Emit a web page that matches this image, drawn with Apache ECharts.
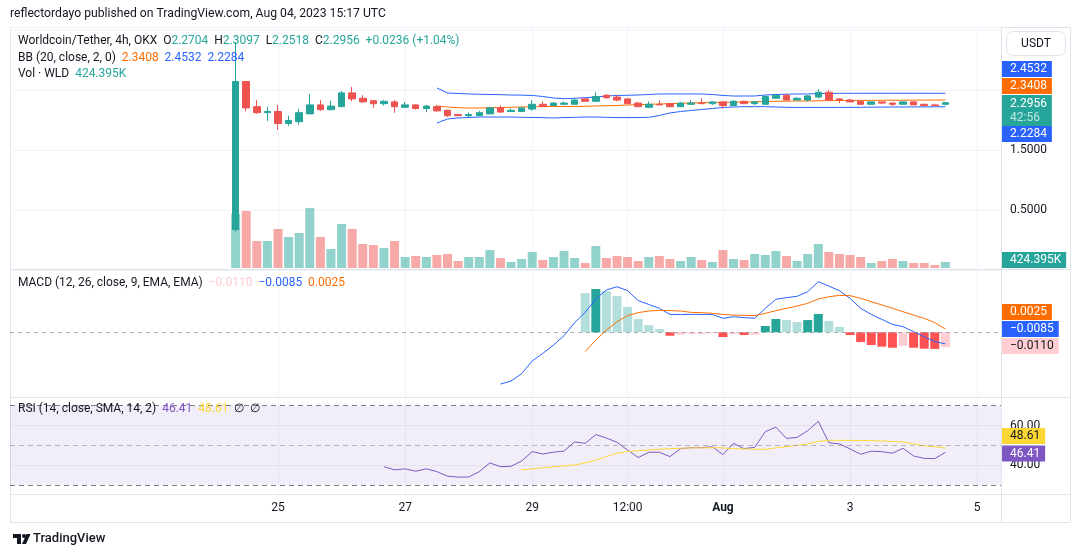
<!doctype html>
<meta charset="utf-8">
<style>
  html, body { margin: 0; height: 100%; background: #fff; }
  #chart { width: 1080px; height: 557px; }
</style>
<script src="https://cdn.jsdelivr.net/npm/echarts@6/dist/echarts.min.js"></script>
<div id="chart"></div>
<script>
  const HOUR = 3600 * 1000
  const FIRST_BAR = Date.UTC(2023, 6, 24, 8)
  const BAR_STEP = 4 * HOUR
  const DAY25 = Date.UTC(2023, 6, 25)

  const candles = [
    [0.18, 2.65, 0.15, 3.31], [2.65, 2.21, 2.15, 2.66], [2.23, 2.13, 2.11, 2.34], [2.13, 2.15, 1.99, 2.23],
    [2.15, 1.95, 1.84, 2.26], [1.95, 2.00, 1.91, 2.08], [1.98, 2.13, 1.93, 2.19], [2.11, 2.26, 2.11, 2.44],
    [2.26, 2.18, 2.16, 2.34], [2.18, 2.24, 2.17, 2.33], [2.23, 2.46, 2.23, 2.49], [2.46, 2.36, 2.32, 2.56],
    [2.37, 2.31, 2.30, 2.42], [2.33, 2.28, 2.21, 2.33], [2.28, 2.32, 2.25, 2.34], [2.31, 2.23, 2.13, 2.34],
    [2.22, 2.26, 2.21, 2.31], [2.26, 2.20, 2.18, 2.27], [2.20, 2.24, 2.14, 2.26], [2.23, 2.16, 2.15, 2.26],
    [2.17, 2.08, 2.06, 2.18], [2.10, 2.08, 2.07, 2.11], [2.08, 2.10, 2.05, 2.13], [2.08, 2.13, 2.08, 2.16],
    [2.11, 2.21, 2.11, 2.23], [2.21, 2.14, 2.13, 2.25], [2.15, 2.17, 2.15, 2.20], [2.15, 2.21, 2.15, 2.23],
    [2.19, 2.27, 2.16, 2.34], [2.27, 2.23, 2.23, 2.32], [2.25, 2.29, 2.25, 2.31], [2.27, 2.29, 2.27, 2.32],
    [2.27, 2.34, 2.27, 2.36], [2.36, 2.32, 2.32, 2.37], [2.32, 2.40, 2.32, 2.47], [2.42, 2.38, 2.36, 2.44],
    [2.39, 2.34, 2.32, 2.42], [2.36, 2.28, 2.28, 2.37], [2.29, 2.23, 2.23, 2.31], [2.22, 2.27, 2.21, 2.32],
    [2.27, 2.26, 2.26, 2.34], [2.28, 2.23, 2.23, 2.29], [2.23, 2.29, 2.23, 2.31], [2.27, 2.29, 2.26, 2.34],
    [2.29, 2.28, 2.28, 2.37], [2.28, 2.31, 2.26, 2.31], [2.31, 2.25, 2.20, 2.32], [2.25, 2.32, 2.25, 2.34],
    [2.32, 2.28, 2.28, 2.33], [2.28, 2.31, 2.26, 2.32], [2.27, 2.40, 2.27, 2.42], [2.37, 2.42, 2.37, 2.44],
    [2.42, 2.34, 2.34, 2.45], [2.34, 2.37, 2.34, 2.39], [2.34, 2.41, 2.32, 2.42], [2.39, 2.47, 2.37, 2.52],
    [2.47, 2.34, 2.34, 2.51], [2.36, 2.34, 2.29, 2.37], [2.34, 2.31, 2.31, 2.36], [2.32, 2.27, 2.26, 2.33],
    [2.27, 2.31, 2.27, 2.31], [2.31, 2.29, 2.27, 2.31], [2.29, 2.27, 2.24, 2.31], [2.27, 2.31, 2.27, 2.32],
    [2.31, 2.26, 2.26, 2.32], [2.27, 2.25, 2.25, 2.28], [2.26, 2.25, 2.25, 2.28], [2.2704, 2.2956, 2.2518, 2.3097],
  ]

  // volume in thousands of WLD
  const volumesK = [
    3823, 4036, 1912, 1912, 2761, 2195, 2478, 4248, 2195, 1345, 3115, 2761, 1699, 1628, 1416, 1912,
    779, 850, 779, 920, 991, 496, 779, 779, 1274, 708, 425, 637, 1133, 566, 779, 1204, 708, 354,
    1558, 708, 850, 779, 496, 779, 850, 637, 496, 779, 566, 425, 1274, 637, 566, 991, 920, 1204,
    850, 496, 991, 1699, 1133, 991, 920, 779, 354, 496, 637, 496, 354, 354, 212, 424.395,
  ]

  // Bollinger bands, from bar 20 on
  const BB_START = 19
  const bbUpper = [
    2.542, 2.458, 2.45, 2.442, 2.437, 2.433, 2.43, 2.425, 2.422, 2.417, 2.40, 2.375, 2.363, 2.37, 2.38,
    2.392, 2.408, 2.417, 2.42, 2.425, 2.433, 2.442, 2.442, 2.442, 2.442, 2.442, 2.433, 2.417, 2.408, 2.408,
    2.408, 2.425, 2.433, 2.438, 2.442, 2.442, 2.447, 2.45, 2.453, 2.453, 2.454, 2.454, 2.454, 2.454, 2.454,
    2.454, 2.454, 2.453, 2.4532,
  ]
  const bbBasis = [
    2.242, 2.225, 2.213, 2.208, 2.208, 2.213, 2.217, 2.22, 2.225, 2.23, 2.233, 2.233, 2.234, 2.235, 2.237,
    2.242, 2.247, 2.25, 2.258, 2.263, 2.27, 2.275, 2.28, 2.287, 2.292, 2.297, 2.3, 2.303, 2.305, 2.308,
    2.312, 2.317, 2.32, 2.322, 2.325, 2.325, 2.328, 2.33, 2.333, 2.334, 2.335, 2.336, 2.337, 2.338, 2.338,
    2.339, 2.34, 2.34, 2.3408,
  ]
  const bbLower = [
    1.958, 2.025, 2.042, 2.05, 2.058, 2.058, 2.058, 2.058, 2.053, 2.05, 2.047, 2.042, 2.047, 2.053, 2.058,
    2.058, 2.053, 2.047, 2.047, 2.05, 2.053, 2.083, 2.125, 2.15, 2.167, 2.183, 2.2, 2.217, 2.225, 2.23,
    2.23, 2.23, 2.225, 2.22, 2.217, 2.217, 2.217, 2.217, 2.218, 2.219, 2.22, 2.222, 2.223, 2.224, 2.225,
    2.226, 2.227, 2.228, 2.2284,
  ]

  // MACD line from bar 26, signal and histogram from bar 34
  const MACD_START = 25
  const SIGNAL_START = 33
  const macdLine = [
    -0.0383, -0.0361, -0.0306, -0.0212, -0.0156, -0.0094, -0.0025, 0.0072, 0.0148, 0.0247, 0.0314,
    0.0338, 0.0309, 0.0235, 0.0207, 0.0178, 0.0133, 0.0133, 0.0133, 0.0133, 0.0133, 0.0104, 0.0116,
    0.0109, 0.0104, 0.0178, 0.0245, 0.0257, 0.0267, 0.0301, 0.0375, 0.0343, 0.0309, 0.0252, 0.0178,
    0.0133, 0.0096, 0.0059, 0.0042, 0.0005, -0.0032, -0.0069, -0.0085,
  ]
  const macdSignal = [
    -0.0143, -0.0057, 0.0017, 0.0079, 0.0124, 0.0146, 0.0158, 0.0163, 0.0161, 0.0158, 0.0148, 0.0146,
    0.0141, 0.0133, 0.0128, 0.0126, 0.0124, 0.0141, 0.0161, 0.0178, 0.0195, 0.0215, 0.0247, 0.0264,
    0.0274, 0.0272, 0.0252, 0.0227, 0.0203, 0.0178, 0.0153, 0.0128, 0.0104, 0.0072, 0.0025,
  ]
  const macdHist = [
    0.0291, 0.0321, 0.0306, 0.0269, 0.0188, 0.0099, 0.0054, 0.0025, -0.0025, -0.0017, -0.0012, -0.0012,
    -0.0007, -0.0035, -0.0012, -0.002, -0.0018, 0.0047, 0.0099, 0.0091, 0.0077, 0.0091, 0.0136, 0.0084,
    0.004, -0.002, -0.0072, -0.0094, -0.0106, -0.0114, -0.0099, -0.0114, -0.0121, -0.0123, -0.011,
  ]

  // RSI from bar 15, its SMA from bar 28
  const RSI_START = 14
  const RSI_MA_START = 27
  const rsi = [
    39.2, 37.6, 38.1, 36.9, 38.1, 36.7, 34.4, 33.9, 34.0, 36.7, 41.1, 39.2, 39.4, 42.1, 46.8, 45.6, 46.5,
    47.1, 51.7, 51.0, 55.4, 53.7, 51.5, 47.6, 43.8, 46.5, 46.5, 44.3, 48.3, 48.8, 48.8, 49.3, 45.3, 51.0,
    48.3, 49.0, 56.9, 59.2, 53.5, 54.0, 57.4, 62.1, 51.3, 50.7, 48.2, 45.5, 47.0, 46.8, 46.0, 48.5, 44.6,
    43.4, 43.3, 46.41,
  ]
  const rsiMa = [
    37.6, 38.1, 38.6, 39.1, 39.6, 40.1, 41.1, 42.4, 44.3, 46.0, 46.8, 47.3, 47.6, 48.0, 48.3, 48.5, 48.7,
    48.7, 48.8, 48.7, 48.3, 48.2, 48.0, 48.0, 48.7, 49.3, 50.0, 50.7, 52.0, 52.5, 52.5, 52.5, 52.4, 52.4,
    52.2, 52.0, 51.7, 50.7, 49.8, 49.3, 48.61,
  ]

  const tickTimes = [
    Date.UTC(2023, 6, 25), Date.UTC(2023, 6, 27), Date.UTC(2023, 6, 29), Date.UTC(2023, 6, 30, 12),
    Date.UTC(2023, 7, 1), Date.UTC(2023, 7, 3), Date.UTC(2023, 7, 5),
  ]
  const tickLabels = ['25', '27', '29', '12:00', '{b|Aug}', '3', '5']
  const changeText = '+0.0236 (+1.04%)'
  const countdown = '42:56'

  const UP = '#26a69a', DOWN = '#ef5350', BLUE = '#2962ff', ORANGE = '#ff6d00', PURPLE = '#7e57c2', YELLOW = '#fdd835'
  const TEXT = '#131722', GRID = '#f0f3fa', BORDER = '#e0e3eb'
  const X_MIN = DAY25 - 101.2 * HOUR
  const X_MAX = DAY25 + 273 * HOUR

  const times = candles.map((c, i) => FIRST_BAR + i * BAR_STEP)
  const pair = (arr, start) => arr.map((v, i) => [times[start + i], v])
  const last = arr => arr[arr.length - 1]
  const fmt = (v, d) => (v < 0 ? '\u2212' : '') + Math.abs(v).toFixed(d)

  let chart = echarts.init(document.getElementById('chart'))

  // value axis over timestamps, so the tick positions can be given directly
  function timeAxis(gridIndex, labels) {
    return {
      type: 'value', gridIndex, min: X_MIN, max: X_MAX,
      axisLine: { show: false },
      axisTick: { show: false, customValues: tickTimes },
      axisLabel: labels ? {
        customValues: tickTimes,
        color: TEXT, fontSize: 12, margin: 9,
        formatter: v => tickLabels[tickTimes.indexOf(v)] || '',
        rich: { b: { fontWeight: 'bold', fontSize: 12, color: TEXT } },
      } : { show: false },
      splitLine: { show: true, lineStyle: { color: GRID } },
    }
  }

  function tag(text, y, bg, color) {
    return {
      type: 'text', x: 1002, y, z: 100,
      style: { text, fill: color, backgroundColor: bg, padding: [2, 5, 2, 8], font: '12px Roboto', verticalAlign: 'top', lineHeight: 12 },
    }
  }

  const histColors = macdHist.map((v, i) => {
    const prev = i > 0 ? macdHist[i - 1] : null
    if (v >= 0) return prev !== null && v > prev ? '#26a69a' : '#b2dfdb'
    return prev !== null && v < prev ? '#ff5252' : '#ffcdd2'
  })

  const lastC = last(candles)
  const header = [
    '{t|Worldcoin/Tether, 4h, OKX}  {t|O}{g|' + lastC[0].toFixed(4) + '}  {t|H}{g|' + lastC[3].toFixed(4) +
      '}  {t|L}{g|' + lastC[2].toFixed(4) + '}  {t|C}{g|' + lastC[1].toFixed(4) + '}  {g|' + changeText + '}',
    '{t|BB (20, close, 2, 0)}  {o|' + last(bbBasis).toFixed(4) + '}  {b|' + last(bbUpper).toFixed(4) + '}  {b|' + last(bbLower).toFixed(4) + '}',
    '{t|Vol \u00b7 WLD}  {g|' + last(volumesK).toFixed(3) + 'K}',
  ]
  const rich = {
    t: { fill: TEXT, font: '12px Roboto' }, g: { fill: UP, font: '12px Roboto' },
    o: { fill: ORANGE, font: '12px Roboto' }, b: { fill: BLUE, font: '12px Roboto' },
    p: { fill: '#ffcdd2', font: '12px Roboto' }, u: { fill: PURPLE, font: '12px Roboto' },
    y: { fill: YELLOW, font: '12px Roboto' },
  }

  chart.setOption({
    animation: false,
    textStyle: { fontFamily: 'Roboto' },
    grid: [
      { left: 10, right: 79, top: 27, bottom: 286.5 },
      { left: 10, right: 79, top: 188, bottom: 289 },
      { left: 10, right: 79, top: 270, bottom: 160 },
      { left: 10, right: 79, top: 399, bottom: 64 },
    ],
    xAxis: [timeAxis(0, false), timeAxis(1, false), timeAxis(2, false), timeAxis(3, true)],
    yAxis: [
      {
        type: 'value', gridIndex: 0, position: 'right', min: -0.5, max: 3.558, interval: 1,
        axisLine: { show: false }, axisTick: { show: false },
        axisLabel: { color: TEXT, fontSize: 12, margin: 9, formatter: v => (v === 0.5 || v === 1.5) ? v.toFixed(4) : '' },
        splitLine: { lineStyle: { color: GRID } },
      },
      { type: 'value', gridIndex: 1, min: 0, max: 5660, show: false, splitLine: { show: false } },
      { type: 'value', gridIndex: 2, min: -0.0479, max: 0.0462, show: false, splitLine: { show: false } },
      {
        type: 'value', gridIndex: 3, position: 'right', min: 25.9, max: 73.4,
        axisLine: { show: false },
        axisTick: { show: false, customValues: [40, 60] },
        axisLabel: { customValues: [40, 60], color: TEXT, fontSize: 12, margin: 9, formatter: v => v.toFixed(2) },
        splitLine: { lineStyle: { color: 'rgba(120,123,134,0.12)' } },
      },
    ],
    series: [
      {
        type: 'bar', xAxisIndex: 1, yAxisIndex: 1, barWidth: 9, z: 1, silent: true,
        data: volumesK.map((v, i) => ({
          value: [times[i], v],
          itemStyle: { color: candles[i][1] >= candles[i][0] ? 'rgba(38,166,154,0.5)' : 'rgba(239,83,80,0.5)' },
        })),
      },
      {
        type: 'line', xAxisIndex: 0, yAxisIndex: 0, stack: 'bb', symbol: 'none', z: 1, silent: true,
        lineStyle: { opacity: 0 }, data: pair(bbLower, BB_START),
      },
      {
        type: 'line', xAxisIndex: 0, yAxisIndex: 0, stack: 'bb', symbol: 'none', z: 1, silent: true,
        lineStyle: { opacity: 0 }, areaStyle: { color: 'rgba(33,150,243,0.07)' },
        data: pair(bbUpper.map((u, i) => u - bbLower[i]), BB_START),
      },
      {
        type: 'line', xAxisIndex: 0, yAxisIndex: 0, symbol: 'none', z: 2,
        lineStyle: { color: BLUE, width: 1 }, data: pair(bbUpper, BB_START),
      },
      {
        type: 'line', xAxisIndex: 0, yAxisIndex: 0, symbol: 'none', z: 2,
        lineStyle: { color: BLUE, width: 1 }, data: pair(bbLower, BB_START),
      },
      {
        type: 'line', xAxisIndex: 0, yAxisIndex: 0, symbol: 'none', z: 2,
        lineStyle: { color: ORANGE, width: 1 }, data: pair(bbBasis, BB_START),
      },
      {
        type: 'candlestick', xAxisIndex: 0, yAxisIndex: 0, barWidth: 7, z: 3,
        itemStyle: { color: UP, color0: DOWN, borderColor: UP, borderColor0: DOWN, borderWidth: 1 },
        data: candles.map((c, i) => [times[i], c[0], c[1], c[2], c[3]]),
      },
      {
        type: 'bar', xAxisIndex: 2, yAxisIndex: 2, barWidth: 9,
        data: macdHist.map((v, i) => ({ value: [times[SIGNAL_START + i], v], itemStyle: { color: histColors[i] } })),
        markLine: {
          silent: true, symbol: 'none', label: { show: false },
          lineStyle: { color: 'rgba(120,123,134,0.6)', type: [4, 4], width: 1 },
          data: [{ yAxis: 0 }],
        },
      },
      {
        type: 'line', xAxisIndex: 2, yAxisIndex: 2, symbol: 'none',
        lineStyle: { color: BLUE, width: 1 }, data: pair(macdLine, MACD_START),
      },
      {
        type: 'line', xAxisIndex: 2, yAxisIndex: 2, symbol: 'none',
        lineStyle: { color: ORANGE, width: 1 }, data: pair(macdSignal, SIGNAL_START),
      },
      {
        type: 'line', xAxisIndex: 3, yAxisIndex: 3, symbol: 'none', z: 3,
        lineStyle: { color: PURPLE, width: 1 }, data: pair(rsi, RSI_START),
        markArea: {
          silent: true, itemStyle: { color: 'rgba(126,87,194,0.1)' },
          data: [[{ yAxis: 30 }, { yAxis: 70 }]],
        },
        markLine: {
          silent: true, symbol: 'none', label: { show: false },
          lineStyle: { color: '#787b86', type: [5, 4], width: 1 },
          data: [{ yAxis: 70 }, { yAxis: 50, lineStyle: { color: 'rgba(120,123,134,0.5)' } }, { yAxis: 30 }],
        },
      },
      {
        type: 'line', xAxisIndex: 3, yAxisIndex: 3, symbol: 'none', z: 3,
        lineStyle: { color: YELLOW, width: 1 }, data: pair(rsiMa, RSI_MA_START),
      },
    ],
    graphic: [
      { type: 'rect', shape: { x: 10.5, y: 27.5, width: 1060, height: 495 }, style: { fill: 'none', stroke: BORDER }, silent: true },
      { type: 'line', shape: { x1: 1001.5, y1: 27, x2: 1001.5, y2: 522 }, style: { stroke: BORDER }, silent: true },
      { type: 'line', shape: { x1: 10, y1: 269.5, x2: 1070, y2: 269.5 }, style: { stroke: BORDER }, silent: true },
      { type: 'line', shape: { x1: 10, y1: 397.5, x2: 1070, y2: 397.5 }, style: { stroke: BORDER }, silent: true },
      { type: 'line', shape: { x1: 10, y1: 494.5, x2: 1070, y2: 494.5 }, style: { stroke: BORDER }, silent: true },
      { type: 'text', x: 10, y: 8, style: { text: 'reflectordayo published on TradingView.com, Aug 04, 2023 15:17 UTC', fill: TEXT, font: '12.2px Roboto' } },
      { type: 'text', x: 18, y: 35, z: 100, style: { text: header[0], rich, font: '12px Roboto' } },
      { type: 'text', x: 18, y: 52, z: 100, style: { text: header[1], rich, font: '12px Roboto' } },
      { type: 'text', x: 18, y: 68, z: 100, style: { text: header[2], rich, font: '12px Roboto' } },
      {
        type: 'text', x: 18, y: 277, z: 100, style: {
          text: '{t|MACD (12, 26, close, 9, EMA, EMA)}  {p|' + fmt(last(macdHist), 4) + '}  {b|' + fmt(last(macdLine), 4) + '}  {o|' + fmt(last(macdSignal), 4) + '}',
          rich, font: '12px Roboto',
        },
      },
      {
        type: 'text', x: 18, y: 403, z: 100, style: {
          text: '{t|RSI (14, close, SMA, 14, 2)}  {u|' + last(rsi).toFixed(2) + '}  {y|' + last(rsiMa).toFixed(2) + '}  {t|\u2205}  {t|\u2205}',
          rich, font: '12px Roboto',
        },
      },
      { type: 'rect', shape: { x: 1006.5, y: 31.5, width: 59, height: 24, r: 6 }, style: { fill: '#fff', stroke: BORDER } },
      { type: 'text', x: 1036, y: 43.5, style: { text: 'USDT', fill: TEXT, font: '12px Roboto', align: 'center', verticalAlign: 'middle' } },
      tag(last(bbUpper).toFixed(4), 61, BLUE, '#fff'),
      tag(last(bbBasis).toFixed(4), 78, ORANGE, '#fff'),
      {
        type: 'text', x: 1002, y: 95, z: 100, style: {
          text: '{a|' + lastC[1].toFixed(4) + '}\n{c|' + countdown + '}', backgroundColor: UP, padding: [2, 5, 1, 8],
          verticalAlign: 'top', font: '12px Roboto',
          rich: { a: { fill: '#fff', font: '12px Roboto', lineHeight: 14 }, c: { fill: 'rgba(255,255,255,0.7)', font: '12px Roboto', lineHeight: 14 } },
        },
      },
      tag(last(bbLower).toFixed(4), 126, BLUE, '#fff'),
      tag(last(volumesK).toFixed(3) + 'K', 252, UP, '#fff'),
      tag(fmt(last(macdSignal), 4), 304, ORANGE, '#fff'),
      tag(fmt(last(macdLine), 4), 321, BLUE, '#fff'),
      tag(fmt(last(macdHist), 4), 338, '#ffcdd2', TEXT),
      tag(last(rsiMa).toFixed(2), 428, YELLOW, TEXT),
      tag(last(rsi).toFixed(2), 445.5, PURPLE, '#fff'),
      { type: 'rect', shape: { x: 13, y: 534, width: 8, height: 4 }, style: { fill: TEXT } },
      { type: 'rect', shape: { x: 17, y: 534, width: 4, height: 10 }, style: { fill: TEXT } },
      { type: 'circle', shape: { cx: 24, cy: 536, r: 2 }, style: { fill: TEXT } },
      { type: 'polygon', shape: { points: [[22, 544], [26.5, 534], [30.5, 534], [26, 544]] }, style: { fill: TEXT } },
      { type: 'text', x: 33, y: 532, style: { text: 'TradingView', fill: TEXT, font: '500 13px Roboto' } },
    ],
  })
</script>
